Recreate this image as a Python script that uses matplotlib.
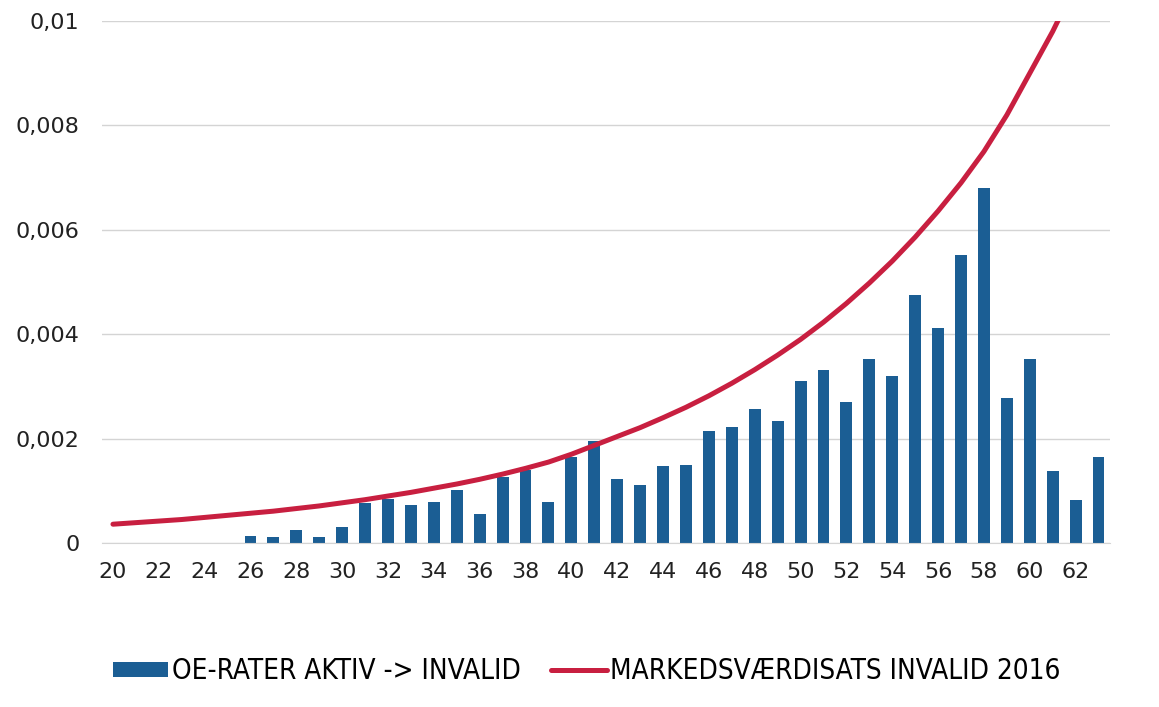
import numpy as np
import matplotlib
matplotlib.use("Agg")
import matplotlib.pyplot as plt

ages = list(range(20, 64))
oe_rates = [0, 0, 0, 0, 0, 0, 0.00014, 0.00012, 0.00024, 0.00011,
            0.00031, 0.00077, 0.00085, 0.00072, 0.00078, 0.00101, 0.00055, 0.00127, 0.0014, 0.00078,
            0.00165, 0.00196, 0.00122, 0.00112, 0.00148, 0.0015, 0.00215, 0.00222, 0.00257, 0.00234,
            0.0031, 0.00332, 0.0027, 0.00353, 0.00319, 0.00476, 0.00411, 0.00552, 0.0068, 0.00277,
            0.00353, 0.00137, 0.00082, 0.00164]
line_ages = list(range(20, 63))
market_rate = [0.00036, 0.00039, 0.00042, 0.00045, 0.00049, 0.00053, 0.00057, 0.00061, 0.00066, 0.00071,
               0.00077, 0.00083, 0.00090, 0.00097, 0.00105, 0.00113, 0.00122, 0.00132, 0.00143, 0.00155,
               0.00170, 0.00187, 0.00204, 0.00221, 0.00240, 0.00260, 0.00282, 0.00306, 0.00332, 0.00360,
               0.0039, 0.00423, 0.00459, 0.00498, 0.0054, 0.00586, 0.00636, 0.0069, 0.0075, 0.0082,
               0.0090, 0.0098, 0.0107]
tick_labels = [str(a) if a % 2 == 0 else "" for a in ages]

blue = "#1b5e94"
red = "#c81f40"

fig = plt.figure(figsize=(11.59, 7.07), dpi=100)
ax = fig.add_axes([101.5 / 1159, 1 - 543 / 707, (1110 - 101.5) / 1159, (543 - 21) / 707])

x = np.arange(len(ages))
bars = ax.bar(x, oe_rates, width=0.52, color=blue, zorder=2)
lx = np.array([ages.index(a) for a in line_ages])
line, = ax.plot(lx, market_rate, color=red, linewidth=3.6, solid_capstyle="round", zorder=3)

ax.set_xlim(-0.5, len(ages) - 0.5)
ax.set_ylim(0, 0.01)
ax.set_yticks([0, 0.002, 0.004, 0.006, 0.008, 0.01])
ax.set_yticklabels(["0", "0,002", "0,004", "0,006", "0,008", "0,01"])
ax.set_xticks(x)
ax.set_xticklabels(tick_labels)
ax.tick_params(axis="both", length=0, labelsize=16, colors="#222222")
ax.tick_params(axis="y", pad=16)
ax.tick_params(axis="x", pad=14)
ax.grid(axis="y", color="#d4d4d4", linewidth=1)
ax.set_axisbelow(True)
for s in ["top", "right", "left"]:
    ax.spines[s].set_visible(False)
ax.spines["bottom"].set_color("#d4d4d4")

fig.legend([bars, line], ["OE-RATER AKTIV -> INVALID", "MARKEDSVÆRDISATS INVALID 2016"],
           loc="center", bbox_to_anchor=(0.506, 1 - 671 / 707), ncol=2, frameon=False,
           handlelength=2.0, handleheight=0.45, handletextpad=0.12, columnspacing=1.1,
           prop={"family": "DejaVu Sans", "stretch": "condensed", "size": 20})

fig.savefig("out.png", dpi=100)
